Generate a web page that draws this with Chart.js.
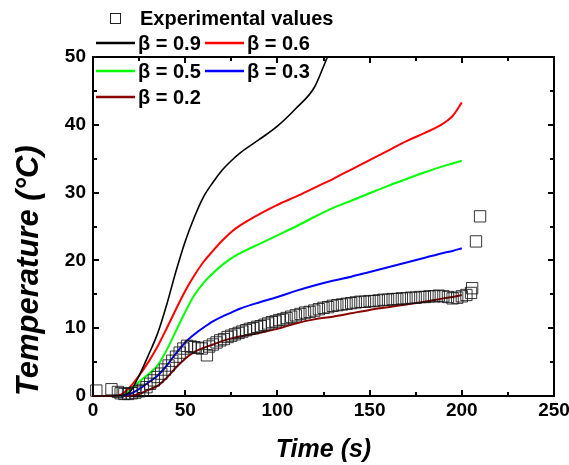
<!DOCTYPE html>
<html>
<head>
<meta charset="utf-8">
<script src="https://cdn.jsdelivr.net/npm/chart.js@4.4.1/dist/chart.umd.min.js"></script>
<style>
html,body{margin:0;padding:0;background:#fff;}
#wrap{width:569px;height:465px;position:relative;}
</style>
</head>
<body>
<div id="wrap"><canvas id="c" width="569" height="465"></canvas></div>
<script>
// ---- data ----
const seriesLabels = ['\u03B2 = 0.9', '\u03B2 = 0.6', '\u03B2 = 0.5', '\u03B2 = 0.3', '\u03B2 = 0.2'];
const expLabel = 'Experimental values';

const t09 = [0, 10, 15, 20, 25, 30, 35, 40, 45, 50, 55, 60, 65, 70, 75, 80, 90, 100, 110, 120, 125, 130];
const v09 = [0, 0, 0.1, 0.6, 3.0, 6.0, 9.2, 13.5, 18.4, 22.8, 26.4, 29.4, 31.5, 33.3, 34.7, 35.9, 37.8, 39.8, 42.4, 45.5, 48.6, 52.0];

const tCurve = [0, 10, 15, 20, 25, 30, 35, 40, 45, 50, 55, 60, 65, 70, 75, 80, 90, 100, 110, 120, 130, 140, 150, 160, 170, 180, 190, 195, 200];
const v06 = [0, 0, 0.2, 1.3, 3.0, 5.0, 7.3, 10.0, 12.8, 15.5, 17.8, 19.8, 21.4, 22.9, 24.2, 25.2, 26.8, 28.2, 29.4, 30.7, 32.0, 33.4, 34.8, 36.2, 37.6, 38.8, 40.2, 41.3, 43.3];
const v05 = [0, 0, 0.1, 0.8, 2.1, 3.2, 4.5, 6.8, 9.6, 12.4, 14.9, 16.7, 18.1, 19.3, 20.3, 21.1, 22.4, 23.7, 25.0, 26.4, 27.7, 28.8, 29.9, 31.0, 32.0, 33.0, 33.9, 34.3, 34.7];
const v03 = [0, 0, 0.05, 0.3, 1.0, 2.0, 3.0, 4.5, 6.3, 7.9, 9.1, 10.1, 11.0, 11.7, 12.3, 12.9, 13.8, 14.6, 15.5, 16.3, 17.0, 17.6, 18.3, 19.0, 19.7, 20.4, 21.1, 21.4, 21.8];
const v02 = [0, 0, 0, 0.05, 0.3, 0.9, 1.5, 2.7, 4.2, 5.5, 6.5, 7.1, 7.6, 8.1, 8.5, 8.8, 9.3, 9.9, 10.7, 11.3, 11.7, 12.2, 12.7, 13.1, 13.5, 13.9, 14.4, 14.6, 14.9];

const tExp = [1.8, 10, 13.5, 15, 17, 19, 21, 23, 25, 27, 29, 31, 33, 35, 37, 39, 41, 43, 45, 47, 49, 51, 53, 55, 57, 59, 61.8, 63, 65, 67, 69, 71, 73, 75, 77, 79, 81, 83, 85, 87, 89, 91, 93, 95, 97, 99, 101, 103, 105, 107.5, 110, 112.5, 115, 117.5, 120, 122.5, 125, 127.5, 130, 132.5, 135, 137.5, 140, 142.5, 145, 147.5, 150, 152.5, 155, 157.5, 160, 162.5, 165, 167.5, 170, 172.5, 175, 177.5, 180, 182.5, 185, 187.5, 190, 192.5, 195, 197.5, 200, 202.5, 205, 205.6, 207.7, 209.9];
const vExp = [0.8, 1.0, 0.6, 0.4, 0.3, 0.3, 0.4, 0.5, 0.7, 0.9, 1.3, 1.8, 2.3, 2.8, 3.3, 3.9, 4.5, 5.2, 5.8, 6.4, 7.0, 7.4, 7.3, 7.2, 7.1, 7.0, 6.0, 7.3, 7.6, 7.9, 8.2, 8.4, 8.7, 8.9, 9.1, 9.3, 9.5, 9.7, 9.9, 10.0, 10.2, 10.3, 10.5, 10.7, 10.9, 11.0, 11.2, 11.3, 11.5, 11.7, 11.9, 12.1, 12.3, 12.4, 12.6, 12.8, 13.0, 13.1, 13.3, 13.4, 13.5, 13.6, 13.7, 13.8, 13.9, 13.9, 14.0, 14.0, 14.1, 14.2, 14.2, 14.3, 14.3, 14.4, 14.4, 14.5, 14.5, 14.6, 14.6, 14.7, 14.7, 14.8, 14.7, 14.6, 14.4, 14.5, 14.7, 14.9, 15.2, 15.9, 22.8, 26.5];

const xTickValues = [0, 50, 100, 150, 200, 250];
const yTickValues = [0, 10, 20, 30, 40, 50];

// ---- build datasets ----
const zip = (xs, ys) => xs.map((x, i) => ({x: x, y: ys[i]}));
const lineColors = ['#000000', '#ff0000', '#00ff00', '#0000ff', '#8b0000'];
const lineData = [zip(t09, v09), zip(tCurve, v06), zip(tCurve, v05), zip(tCurve, v03), zip(tCurve, v02)];
const FONT = '"Liberation Sans", Arial, sans-serif';

const datasets = lineData.map((d, i) => ({
  type: 'line',
  label: seriesLabels[i],
  data: d,
  borderColor: lineColors[i],
  borderWidth: i === 0 ? 1.6 : 2,
  pointRadius: 0,
  fill: false,
  cubicInterpolationMode: 'monotone',
  clip: {left: 0, right: 0, top: 0, bottom: 2}
}));
datasets.unshift({
  type: 'scatter',
  label: expLabel,
  data: zip(tExp, vExp),
  pointStyle: 'rect',
  pointRadius: 8,
  pointHoverRadius: 8,
  borderColor: 'rgba(20,20,20,0.85)',
  backgroundColor: 'rgba(0,0,0,0)',
  pointBorderWidth: 1,
  borderWidth: 1,
  showLine: false,
  clip: false
});

const framePlugin = {
  id: 'frame',
  beforeDatasetsDraw(chart) {
    const {ctx, chartArea: a, scales: {x, y}} = chart;
    ctx.save();
    ctx.strokeStyle = '#000';
    ctx.lineWidth = 2;
    ctx.strokeRect(a.left, a.top, a.right - a.left, a.bottom - a.top);
    ctx.beginPath();
    for (let v = x.min; v <= x.max; v += 25) {
      const px = Math.round(x.getPixelForValue(v));
      const len = (v % 50 === 0) ? 6 : 4;
      ctx.moveTo(px, a.bottom); ctx.lineTo(px, a.bottom - len);
      ctx.moveTo(px, a.top); ctx.lineTo(px, a.top + len);
    }
    for (let v = y.min; v <= y.max; v += 5) {
      const py = Math.round(y.getPixelForValue(v));
      const len = (v % 10 === 0) ? 6 : 4;
      ctx.moveTo(a.left, py); ctx.lineTo(a.left + len, py);
      ctx.moveTo(a.right, py); ctx.lineTo(a.right - len, py);
    }
    ctx.stroke();
    ctx.restore();
  }
};

const legendPlugin = {
  id: 'customLegend',
  afterDraw(chart) {
    const ctx = chart.ctx;
    const ds = chart.data.datasets;
    ctx.save();
    ctx.font = 'bold 20px ' + FONT;
    ctx.textBaseline = 'middle';
    ctx.textAlign = 'left';
    ctx.fillStyle = '#000';
    // experimental entry
    ctx.strokeStyle = '#222';
    ctx.lineWidth = 1;
    ctx.strokeRect(110.5, 13.5, 10, 10);
    ctx.fillText(ds[0].label, 140, 19);
    const slots = [[96, 43], [205, 43], [96, 71], [205, 71], [96, 97]];
    for (let i = 1; i < ds.length; i++) {
      const [lx, ly] = slots[i - 1];
      ctx.strokeStyle = ds[i].borderColor;
      ctx.lineWidth = 2.5;
      ctx.beginPath();
      ctx.moveTo(lx, ly); ctx.lineTo(lx + 39, ly);
      ctx.stroke();
      ctx.fillText(ds[i].label, lx + 42, ly + 1);
    }
    ctx.restore();
  }
};

new Chart(document.getElementById('c'), {
  data: {datasets: datasets},
  options: {
    responsive: false,
    animation: false,
    events: [],
    layout: {padding: {left: 0, right: 15, top: 57, bottom: 0}},
    plugins: {legend: {display: false}, tooltip: {enabled: false}},
    scales: {
      x: {
        type: 'linear', min: 0, max: 250,
        afterBuildTicks: s => { s.ticks = xTickValues.map(v => ({value: v})); },
        ticks: {color: '#000', font: {family: FONT, size: 19, weight: 'bold'}, padding: 3, maxRotation: 0, autoSkip: false},
        grid: {display: false, drawTicks: false},
        border: {display: false},
        title: {display: true, text: 'Time (s)', color: '#000', font: {family: FONT, size: 25, weight: 'bold', style: 'italic'}, padding: {top: 0, bottom: 0}},
        afterFit: s => { s.height = 69; s.paddingLeft = 0; s.paddingRight = 0; }
      },
      y: {
        type: 'linear', min: 0, max: 50,
        afterBuildTicks: s => { s.ticks = yTickValues.map(v => ({value: v})); },
        ticks: {color: '#000', font: {family: FONT, size: 19, weight: 'bold'}, padding: 7},
        grid: {display: false, drawTicks: false},
        border: {display: false},
        title: {display: true, text: 'Temperature (\u00B0C)', align: 'start', color: '#000', font: {family: FONT, size: 31, weight: 'bold', style: 'italic'}, padding: {top: 11, bottom: 0}},
        afterFit: s => { s.width = 93; s.paddingTop = 0; s.paddingBottom = 0; }
      }
    }
  },
  plugins: [framePlugin, legendPlugin]
});
</script>
</body>
</html>
